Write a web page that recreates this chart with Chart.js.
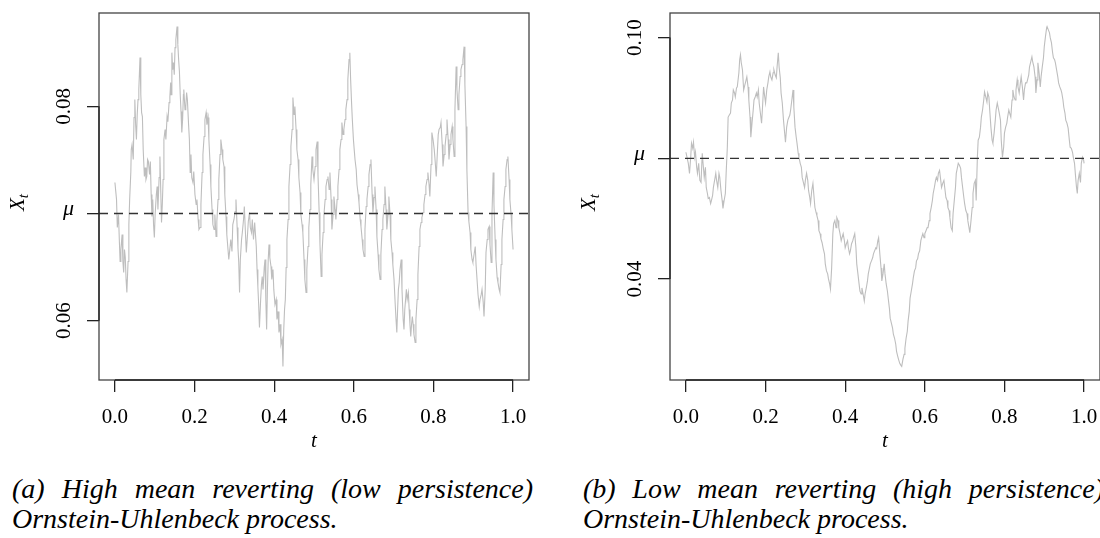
<!DOCTYPE html>
<html>
<head>
<meta charset="utf-8">
<script src="https://cdn.jsdelivr.net/npm/chart.js@4.4.1/dist/chart.umd.min.js"></script>
<style>
  body { margin: 0; width: 1100px; height: 538px; overflow: hidden; background: #fff; position: relative; }
  canvas { position: absolute; top: 0; }
  .cap { position: absolute; font-family: 'Liberation Serif', serif; font-style: italic; font-size: 28px; line-height: 30px; color: #000; }
  .cap .l1 { width: 521px; text-align: justify; text-align-last: justify; white-space: nowrap; }
</style>
</head>
<body>
<canvas id="chartA" width="550" height="470" style="left:0"></canvas>
<canvas id="chartB" width="550" height="470" style="left:571px"></canvas>
<div class="cap" style="left:12px; top:474px">
  <div class="l1">(a) High mean reverting (low persistence)</div>
  <div>Ornstein-Uhlenbeck process.</div>
</div>
<div class="cap" style="left:583px; top:474px">
  <div class="l1">(b) Low mean reverting (high persistence)</div>
  <div>Ornstein-Uhlenbeck process.</div>
</div>
<script>
const MU = 0.07;
const xTicks = [0, 0.2, 0.4, 0.6, 0.8, 1.0];
const yTicksHigh = [0.06, MU, 0.08];
const yTicksLow = [0.04, MU, 0.10];

// path with strong mean reversion
const tHigh = [
  0.000, 0.004, 0.006, 0.009, 0.011, 0.013, 0.015, 0.018, 0.020, 0.022, 0.024, 0.026, 0.028, 0.030, 0.033, 0.035, 0.037, 0.040, 0.041, 0.043,
  0.046, 0.048, 0.050, 0.052, 0.054, 0.056, 0.058, 0.060, 0.063, 0.065, 0.067, 0.069, 0.071, 0.074, 0.076, 0.078, 0.080, 0.082, 0.084, 0.087,
  0.089, 0.091, 0.093, 0.095, 0.097, 0.099, 0.101, 0.104, 0.106, 0.108, 0.111, 0.113, 0.115, 0.117, 0.119, 0.121, 0.123,
  0.126, 0.128, 0.131, 0.133, 0.136, 0.138, 0.140, 0.141, 0.143, 0.145, 0.147, 0.149, 0.151, 0.153, 0.156, 0.158, 0.160, 0.162, 0.164, 0.166,
  0.168, 0.170, 0.172, 0.173, 0.176, 0.178, 0.180, 0.182, 0.185, 0.187, 0.189, 0.191, 0.193, 0.196, 0.198, 0.201, 0.204, 0.206, 0.209, 0.211,
  0.214, 0.216, 0.219, 0.221, 0.224, 0.226, 0.229, 0.231, 0.234, 0.236, 0.239, 0.241, 0.244, 0.246,
  0.249, 0.251, 0.254, 0.256, 0.259, 0.261, 0.264, 0.266, 0.269, 0.271, 0.274, 0.276, 0.279, 0.281, 0.284, 0.286, 0.289, 0.291, 0.294, 0.296,
  0.299, 0.302, 0.304, 0.307, 0.309, 0.311, 0.313, 0.315, 0.318, 0.320, 0.323, 0.325, 0.328, 0.330, 0.333, 0.335, 0.338, 0.340, 0.343, 0.345,
  0.348, 0.351, 0.353, 0.355, 0.357, 0.359, 0.361, 0.363, 0.366, 0.368, 0.370, 0.372, 0.375, 0.377, 0.379, 0.381, 0.383, 0.385, 0.387, 0.389,
  0.392, 0.394, 0.397, 0.399, 0.402, 0.405, 0.407, 0.410, 0.412, 0.415, 0.417, 0.420, 0.422,
  0.424, 0.426, 0.428, 0.430, 0.432, 0.435, 0.437, 0.440, 0.442, 0.445, 0.447, 0.450, 0.452, 0.455, 0.457, 0.460, 0.462, 0.465, 0.467, 0.470,
  0.472, 0.475, 0.477, 0.480, 0.482, 0.485, 0.487, 0.490, 0.492, 0.495, 0.497, 0.500, 0.503, 0.505, 0.508, 0.510, 0.513, 0.515, 0.518, 0.520,
  0.523, 0.525, 0.528, 0.530, 0.533, 0.535, 0.538, 0.540, 0.543, 0.545, 0.548, 0.550, 0.553, 0.555, 0.558, 0.560, 0.563, 0.565, 0.568, 0.570,
  0.573, 0.575, 0.578, 0.580, 0.583, 0.585, 0.588, 0.590, 0.592, 0.594, 0.596, 0.599, 0.601, 0.603, 0.606, 0.608, 0.611, 0.613, 0.616,
  0.618, 0.621, 0.623, 0.626, 0.628, 0.631, 0.633, 0.636, 0.638, 0.641, 0.643, 0.646, 0.648, 0.651, 0.653, 0.656, 0.658, 0.661, 0.663, 0.666,
  0.668, 0.671, 0.673, 0.676, 0.678, 0.681, 0.683, 0.686, 0.688, 0.691, 0.693, 0.696, 0.698, 0.701, 0.704, 0.706, 0.708, 0.710, 0.712, 0.714,
  0.716, 0.719, 0.721, 0.724, 0.726, 0.728, 0.730, 0.732, 0.734, 0.737, 0.739, 0.741, 0.743, 0.745, 0.747, 0.749, 0.751, 0.754, 0.756, 0.759,
  0.761, 0.764, 0.766,
  0.769, 0.771, 0.774, 0.776, 0.779, 0.781, 0.784, 0.786, 0.789, 0.791, 0.794, 0.796, 0.799, 0.802, 0.804, 0.807, 0.809, 0.812, 0.814, 0.817,
  0.819, 0.822, 0.824, 0.827, 0.829, 0.832, 0.834, 0.837, 0.839, 0.842, 0.844, 0.847, 0.849, 0.852, 0.854, 0.857, 0.859, 0.862, 0.864, 0.867,
  0.869, 0.872, 0.874, 0.877, 0.879, 0.882, 0.884, 0.887, 0.889, 0.892, 0.894, 0.897, 0.899, 0.902, 0.905, 0.907, 0.910, 0.912, 0.915, 0.917,
  0.920, 0.922, 0.925, 0.927, 0.930, 0.932, 0.935, 0.937, 0.940, 0.942, 0.945, 0.947, 0.950, 0.952, 0.955, 0.957, 0.960, 0.962, 0.965, 0.967,
  0.970, 0.972, 0.975, 0.977, 0.980, 0.982, 0.985, 0.987, 0.990, 0.992, 0.995, 0.997, 1.000];
const xHigh = [
  0.07289, 0.07130, 0.06869, 0.06991, 0.06758, 0.06553, 0.06664, 0.06804, 0.06553, 0.06450, 0.06664, 0.06590, 0.06385, 0.06264, 0.06553, 0.06897, 0.07130, 0.07391, 0.07596, 0.07643,
  0.07503, 0.07895, 0.08062, 0.07829, 0.07690, 0.07923, 0.08062, 0.08156, 0.08454, 0.08109, 0.07941, 0.07904, 0.07596, 0.07345, 0.07429, 0.07317, 0.07345, 0.07503, 0.07485, 0.07363,
  0.07485, 0.07177, 0.06972, 0.07130, 0.06897, 0.06776, 0.06991, 0.07177, 0.07252, 0.07037, 0.07335, 0.07531, 0.07224, 0.06916, 0.07084, 0.07317, 0.07690,
  0.07783, 0.07690, 0.07904, 0.07857, 0.08034, 0.08090, 0.08221, 0.08109, 0.08500, 0.08342, 0.08407, 0.08295, 0.08547, 0.08622, 0.08743, 0.08575, 0.08435, 0.08323, 0.08109, 0.07951,
  0.07755, 0.07876, 0.08109, 0.08156, 0.07969, 0.07997, 0.08128, 0.08062, 0.07829, 0.07690, 0.07382, 0.07550, 0.07335, 0.07289, 0.07391, 0.07177, 0.07084, 0.07130, 0.06944, 0.06851,
  0.06869, 0.07084, 0.07382, 0.07550, 0.07718, 0.07876, 0.07941, 0.07829, 0.07895, 0.07690, 0.07457, 0.07252, 0.07037, 0.06897,
  0.06851, 0.06991, 0.06786, 0.06925, 0.07130, 0.07317, 0.07550, 0.07690, 0.07596, 0.07503, 0.07438, 0.07177, 0.06972, 0.06804, 0.06664, 0.06571, 0.06683, 0.06758, 0.06646, 0.06897,
  0.06944, 0.07018, 0.07130, 0.06869, 0.06683, 0.06543, 0.06264, 0.06571, 0.06758, 0.06823, 0.06944, 0.07065, 0.06804, 0.06636, 0.06804, 0.06925, 0.07009, 0.06869, 0.06823, 0.06944,
  0.06758, 0.06916, 0.06804, 0.06692, 0.06478, 0.06320, 0.06152, 0.05938, 0.06198, 0.06338, 0.06413, 0.06292, 0.06497, 0.06571, 0.06198, 0.05919, 0.06292, 0.06571, 0.06711, 0.06590,
  0.06506, 0.06385, 0.06478, 0.06292, 0.06152, 0.06198, 0.06012, 0.06087, 0.05891, 0.05966, 0.05779, 0.05826, 0.05574,
  0.05919, 0.06105, 0.06198, 0.06497, 0.06758, 0.06944, 0.07252, 0.07457, 0.07624, 0.07783, 0.08081, 0.07923, 0.07997, 0.07783, 0.07596, 0.07503, 0.07335, 0.07196, 0.06991, 0.06897,
  0.06823, 0.06571, 0.06385, 0.06264, 0.06478, 0.06692, 0.06869, 0.07037, 0.07270, 0.07531, 0.07410, 0.07317, 0.07438, 0.07596, 0.07671, 0.07363, 0.07009, 0.06711, 0.06413, 0.06618,
  0.06823, 0.06991, 0.07130, 0.07252, 0.07317, 0.07345, 0.07224, 0.07382, 0.07130, 0.06851, 0.06991, 0.07158, 0.07037, 0.06944, 0.07130, 0.07252, 0.07410, 0.07596, 0.07690, 0.07848,
  0.07736, 0.07783, 0.07876, 0.07969, 0.08062, 0.08249, 0.08435, 0.08500, 0.08249, 0.08062, 0.07895, 0.07690, 0.07596, 0.07503, 0.07410, 0.07270, 0.07177, 0.07102, 0.06944,
  0.06879, 0.06758, 0.06664, 0.06599, 0.06851, 0.07065, 0.07130, 0.07252, 0.07363, 0.07457, 0.07503, 0.07177, 0.07009, 0.07149, 0.07252, 0.07037, 0.06786, 0.06618, 0.06478, 0.06385,
  0.06618, 0.06851, 0.06944, 0.07084, 0.07252, 0.07037, 0.06851, 0.06991, 0.07158, 0.06991, 0.06758, 0.06636, 0.06525, 0.06385, 0.06152, 0.06012, 0.05891, 0.06105, 0.06292, 0.06357,
  0.06478, 0.06571, 0.06292, 0.06012, 0.05919, 0.06105, 0.06198, 0.06292, 0.06198, 0.06264, 0.06105, 0.05966, 0.05854, 0.05966, 0.06040, 0.05966, 0.05872, 0.05798, 0.06012, 0.06198,
  0.06431, 0.06692, 0.06851,
  0.06916, 0.06963, 0.07009, 0.07084, 0.07177, 0.07252, 0.07317, 0.07382, 0.07270, 0.07158, 0.07457, 0.07755, 0.07690, 0.07596, 0.07503, 0.07345, 0.07503, 0.07736, 0.07783, 0.07801,
  0.07848, 0.07643, 0.07438, 0.07550, 0.07624, 0.07736, 0.07876, 0.07690, 0.07503, 0.07643, 0.07736, 0.07811, 0.07690, 0.07531, 0.07969, 0.08370, 0.08156, 0.07969, 0.08109, 0.08277,
  0.08342, 0.08389, 0.08435, 0.08556, 0.08202, 0.07811, 0.07410, 0.07009, 0.06925, 0.06823, 0.06664, 0.06571, 0.06543, 0.06618, 0.06692, 0.06525, 0.06357, 0.06245, 0.06133, 0.06198,
  0.06245, 0.06292, 0.06171, 0.06040, 0.06292, 0.06636, 0.06758, 0.06851, 0.06879, 0.06711, 0.06543, 0.06991, 0.07382, 0.07084, 0.06758, 0.06571, 0.06403, 0.06357, 0.06292, 0.06264,
  0.06525, 0.06758, 0.06944, 0.07130, 0.07252, 0.07410, 0.07503, 0.07531, 0.07317, 0.07130, 0.06991, 0.06851, 0.06664];

// path with weak mean reversion
const tLow = [
  0.000, 0.006, 0.009, 0.012, 0.014, 0.017, 0.019, 0.022, 0.024, 0.027, 0.029, 0.032, 0.035, 0.038, 0.041, 0.043, 0.046, 0.049, 0.051, 0.054,
  0.056, 0.059, 0.062, 0.064, 0.067, 0.069, 0.072, 0.075, 0.077, 0.080, 0.083, 0.085, 0.088, 0.091, 0.093, 0.096, 0.099, 0.101, 0.104, 0.106,
  0.109, 0.112, 0.114, 0.117, 0.119, 0.122, 0.124, 0.127, 0.129, 0.133, 0.135, 0.137, 0.139, 0.142, 0.145, 0.148, 0.150, 0.153, 0.156, 0.158,
  0.161, 0.163, 0.166, 0.169, 0.171, 0.174, 0.177, 0.179, 0.182, 0.184, 0.187, 0.190, 0.192, 0.195, 0.198, 0.200, 0.203, 0.206, 0.208, 0.211,
  0.213, 0.216, 0.219, 0.221, 0.224, 0.227, 0.229, 0.232, 0.234, 0.237, 0.239, 0.242, 0.245, 0.248, 0.250, 0.253, 0.256, 0.258, 0.261, 0.263,
  0.266, 0.269, 0.271, 0.274, 0.277, 0.279, 0.282, 0.284, 0.287, 0.290, 0.292, 0.295, 0.298, 0.300, 0.303, 0.306, 0.308, 0.311, 0.313, 0.316,
  0.319, 0.321, 0.324, 0.327, 0.329, 0.332, 0.334, 0.337, 0.339, 0.342, 0.345, 0.348, 0.350, 0.353, 0.356, 0.358, 0.361, 0.363, 0.366, 0.369,
  0.371, 0.374, 0.377, 0.379, 0.382, 0.384, 0.387, 0.390, 0.392, 0.395, 0.398, 0.400, 0.403, 0.406, 0.408, 0.411, 0.413, 0.416, 0.419, 0.421,
  0.424, 0.427, 0.429, 0.432, 0.434, 0.437, 0.440, 0.442, 0.445, 0.448, 0.450, 0.453, 0.456, 0.458, 0.461, 0.463, 0.466, 0.469, 0.471, 0.474,
  0.477, 0.479, 0.482, 0.484, 0.487, 0.490, 0.492, 0.495, 0.498, 0.500, 0.503, 0.506, 0.508, 0.511, 0.513, 0.516, 0.519, 0.521, 0.524, 0.527,
  0.529, 0.532, 0.534, 0.537, 0.540, 0.542, 0.545, 0.548, 0.550, 0.553, 0.556, 0.558, 0.561, 0.563, 0.566, 0.569, 0.571, 0.574, 0.577, 0.579,
  0.582, 0.584, 0.587, 0.590, 0.592, 0.595, 0.598, 0.600, 0.603, 0.606, 0.608, 0.611, 0.613, 0.616, 0.619, 0.621, 0.624, 0.627, 0.629, 0.632,
  0.634, 0.637, 0.640, 0.642, 0.645, 0.648, 0.650, 0.653, 0.656, 0.658, 0.661, 0.663, 0.666, 0.669, 0.671, 0.674, 0.677, 0.679, 0.682, 0.684,
  0.687, 0.690, 0.692, 0.695, 0.698, 0.700, 0.703, 0.706, 0.708, 0.711, 0.713, 0.716, 0.719, 0.721, 0.724, 0.727, 0.729, 0.732, 0.734, 0.737,
  0.740, 0.742, 0.745, 0.748, 0.750, 0.753, 0.756, 0.758, 0.761, 0.763, 0.766, 0.769, 0.771, 0.774, 0.777, 0.779, 0.782, 0.784, 0.787, 0.790,
  0.792, 0.795, 0.798, 0.800, 0.803, 0.806, 0.808, 0.811, 0.813, 0.816, 0.819, 0.821, 0.824, 0.827, 0.829, 0.832, 0.834, 0.837, 0.840, 0.842,
  0.845, 0.848, 0.850, 0.853, 0.856, 0.858, 0.861, 0.863, 0.866, 0.869, 0.871, 0.874, 0.877, 0.879, 0.882, 0.884, 0.887, 0.890, 0.892, 0.895,
  0.898, 0.900, 0.903, 0.906, 0.907, 0.910, 0.913, 0.915, 0.918, 0.921, 0.923, 0.926, 0.928, 0.931, 0.934, 0.936, 0.939, 0.942, 0.944, 0.947,
  0.949, 0.952, 0.954, 0.957, 0.960, 0.963, 0.965, 0.968, 0.971, 0.973, 0.976, 0.978, 0.981, 0.983, 0.985, 0.988, 0.991, 0.993, 0.996, 0.999,
  1.000];
const xLow = [
  0.07150, 0.06875, 0.06626, 0.07025, 0.07375, 0.07250, 0.07400, 0.07025, 0.07150, 0.06775, 0.06626, 0.06875, 0.06451, 0.06401, 0.07125, 0.06875, 0.06526, 0.06775, 0.06276, 0.06126,
  0.06001, 0.06026, 0.05876, 0.05951, 0.06076, 0.06276, 0.06451, 0.06626, 0.06451, 0.06276, 0.06626, 0.06526, 0.06201, 0.05951, 0.05752, 0.05951, 0.06126, 0.06626, 0.07275, 0.08024,
  0.08074, 0.08124, 0.08373, 0.08448, 0.08698, 0.08623, 0.08523, 0.08748, 0.08773, 0.09123, 0.09447, 0.09572, 0.09372, 0.09197, 0.08698, 0.08823, 0.08898, 0.09023, 0.08773, 0.08448,
  0.08024, 0.07524, 0.07874, 0.08199, 0.08448, 0.08523, 0.08623, 0.08523, 0.08698, 0.08373, 0.08124, 0.07874, 0.08199, 0.08773, 0.08523, 0.08373, 0.08698, 0.08873, 0.09023, 0.09148,
  0.09023, 0.08948, 0.09123, 0.09197, 0.09073, 0.08998, 0.09272, 0.09622, 0.09272, 0.08998, 0.08623, 0.08373, 0.07949, 0.07624, 0.07400, 0.07774, 0.07949, 0.07999, 0.08074, 0.08199,
  0.08448, 0.08698, 0.08274, 0.07774, 0.07524, 0.07375, 0.07125, 0.07025, 0.06875, 0.06775, 0.06526, 0.06401, 0.06276, 0.06451, 0.06626, 0.06451, 0.06201, 0.06026, 0.05876, 0.06201,
  0.06376, 0.06126, 0.05777, 0.05652, 0.05577, 0.05452, 0.05202, 0.05127, 0.05002, 0.04903, 0.04753, 0.04628, 0.04378, 0.04203, 0.04129, 0.04004, 0.03879, 0.03754, 0.04278, 0.05127,
  0.05377, 0.05452, 0.05277, 0.05527, 0.05452, 0.05277, 0.05127, 0.04953, 0.05027, 0.05127, 0.04953, 0.04778, 0.04878, 0.04953, 0.04778, 0.04628, 0.04703, 0.04878, 0.04953, 0.05027,
  0.05127, 0.04778, 0.04378, 0.04129, 0.03954, 0.03704, 0.03629, 0.03779, 0.03629, 0.03454, 0.03629, 0.03779, 0.03954, 0.04129, 0.04278, 0.04378, 0.04453, 0.04528, 0.04628, 0.04703,
  0.04778, 0.04753, 0.04953, 0.05027, 0.04628, 0.04278, 0.03954, 0.04129, 0.04378, 0.04129, 0.03879, 0.03704, 0.03529, 0.03280, 0.03030, 0.02905, 0.02780, 0.02630, 0.02530, 0.02381,
  0.02206, 0.02081, 0.02006, 0.01906, 0.01856, 0.01831, 0.02006, 0.02131, 0.02281, 0.02530, 0.02705, 0.02955, 0.03205, 0.03529, 0.03704, 0.03879, 0.04029, 0.04203, 0.04278, 0.04453,
  0.04503, 0.04628, 0.04703, 0.04953, 0.05027, 0.05127, 0.05027, 0.05127, 0.05202, 0.05277, 0.05277, 0.05452, 0.05627, 0.05777, 0.05951, 0.06126, 0.06276, 0.06451, 0.06526, 0.06451,
  0.06626, 0.06700, 0.06451, 0.06276, 0.06376, 0.06451, 0.06276, 0.06026, 0.05951, 0.05777, 0.05702, 0.05527, 0.05277, 0.05202, 0.05627, 0.05951, 0.06276, 0.06626, 0.06775, 0.06875,
  0.06825, 0.06750, 0.06526, 0.06276, 0.06026, 0.05876, 0.05702, 0.05627, 0.05452, 0.05277, 0.05152, 0.05452, 0.05777, 0.06126, 0.06376, 0.06451, 0.05951, 0.07025, 0.07450, 0.07524,
  0.07774, 0.08024, 0.08199, 0.08448, 0.08648, 0.08523, 0.08398, 0.08623, 0.08523, 0.08199, 0.07774, 0.07450, 0.07375, 0.07624, 0.07949, 0.08199, 0.08373, 0.08274, 0.08124, 0.07949,
  0.07450, 0.07025, 0.07275, 0.07624, 0.07774, 0.07874, 0.08024, 0.08199, 0.08124, 0.08024, 0.08448, 0.08698, 0.08523, 0.08448, 0.08698, 0.08948, 0.08773, 0.08623, 0.08873, 0.09023,
  0.08773, 0.08448, 0.08698, 0.08873, 0.08873, 0.08948, 0.09073, 0.09272, 0.09397, 0.09522, 0.09397, 0.09272, 0.09023, 0.08623, 0.08948, 0.09372, 0.09123, 0.08773, 0.09023, 0.09272,
  0.09497, 0.09772, 0.10021, 0.10246, 0.10271, 0.10196, 0.10121, 0.09996, 0.09872, 0.09622, 0.09497, 0.09447, 0.09372, 0.09197, 0.09023, 0.08873, 0.08773, 0.08698, 0.08623, 0.08448,
  0.08274, 0.08124, 0.07949, 0.07874, 0.07749, 0.07450, 0.07275, 0.07250, 0.07150, 0.07025, 0.06875, 0.06626, 0.06276, 0.06126, 0.06451, 0.06626, 0.06401, 0.06875, 0.07025, 0.06950,
  0.06875];

const SERIF = `'Liberation Serif', serif`;
const INK = '#222';

// box, axis lines, y labels and axis titles in the style of base R graphics
const rFrame = {
  id: 'rFrame',
  afterDraw(chart) {
    const { ctx, chartArea: a, scales: { x, y } } = chart;
    ctx.save();
    ctx.lineWidth = 1.3;
    ctx.strokeStyle = '#444';
    ctx.strokeRect(a.left, a.top, a.right - a.left, a.bottom - a.top);

    ctx.strokeStyle = INK;
    const xs = x.ticks.map(t => x.getPixelForValue(t.value));
    const ys = y.ticks.map(t => y.getPixelForValue(t.value));
    ctx.beginPath();
    ctx.moveTo(xs[0], a.bottom); ctx.lineTo(xs[xs.length - 1], a.bottom);
    ctx.moveTo(a.left, ys[0]); ctx.lineTo(a.left, ys[ys.length - 1]);
    ctx.stroke();

    ctx.fillStyle = '#000';
    y.ticks.forEach(t => {
      const py = y.getPixelForValue(t.value);
      if (t.value === MU) {
        ctx.font = 'italic 22px ' + SERIF;
        ctx.textAlign = 'right';
        ctx.textBaseline = 'alphabetic';
        ctx.fillText('μ', a.left - 25, py + 2);
      } else {
        ctx.save();
        ctx.translate(a.left - 29, py);
        ctx.rotate(-Math.PI / 2);
        ctx.font = '21px ' + SERIF;
        ctx.textAlign = 'center';
        ctx.textBaseline = 'alphabetic';
        ctx.fillText(t.value.toFixed(2), 0, 0);
        ctx.restore();
      }
    });

    // x title
    ctx.font = 'italic 21px ' + SERIF;
    ctx.textAlign = 'center';
    ctx.textBaseline = 'alphabetic';
    ctx.fillText('t', (a.left + a.right) / 2, 447);

    // y title X_t, read bottom to top
    ctx.save();
    ctx.translate(a.left - 75, (a.top + a.bottom) / 2 + 6);
    ctx.rotate(-Math.PI / 2);
    ctx.font = 'italic 21px ' + SERIF;
    const wX = ctx.measureText('X').width;
    ctx.font = 'italic 15px ' + SERIF;
    const wt = ctx.measureText('t').width;
    const x0 = -(wX + wt) / 2;
    ctx.textAlign = 'left';
    ctx.font = 'italic 21px ' + SERIF;
    ctx.fillText('X', x0, 0);
    ctx.font = 'italic 15px ' + SERIF;
    ctx.fillText('t', x0 + wX, 4);
    ctx.restore();

    ctx.restore();
  }
};

function drawPanel(id, tVals, xVals, yTicks) {
  const lo = Math.min(...xVals), hi = Math.max(...xVals);
  const pad = 0.04 * (hi - lo);
  const path = tVals.map((t, i) => ({ x: t, y: xVals[i] }));
  const muLine = [{ x: -0.04, y: MU }, { x: 1.04, y: MU }];

  new Chart(document.getElementById(id), {
    type: 'line',
    data: {
      datasets: [
        { data: muLine, borderColor: '#333', borderWidth: 1.3, borderDash: [9, 6], pointRadius: 0 },
        { data: path, borderColor: '#bebebe', borderWidth: 1.1, pointRadius: 0, tension: 0 }
      ]
    },
    options: {
      responsive: false,
      animation: false,
      devicePixelRatio: 1,
      events: [],
      layout: { padding: { left: 0, top: 13, right: 21, bottom: 0 } },
      plugins: { legend: { display: false }, tooltip: { enabled: false } },
      scales: {
        x: {
          type: 'linear',
          min: -0.04,
          max: 1.04,
          afterBuildTicks: s => { s.ticks = xTicks.map(v => ({ value: v })); },
          afterFit: s => { s.height = 90; },
          border: { display: false },
          grid: { drawOnChartArea: false, drawTicks: true, tickLength: 12, color: INK, lineWidth: 1.3 },
          ticks: { font: { family: SERIF, size: 21 }, color: '#000', padding: 13, maxRotation: 0, callback: v => v.toFixed(1) }
        },
        y: {
          type: 'linear',
          min: lo - pad,
          max: hi + pad,
          afterBuildTicks: s => { s.ticks = yTicks.map(v => ({ value: v })); },
          afterFit: s => { s.width = 99; },
          border: { display: false },
          grid: { drawOnChartArea: false, drawTicks: true, tickLength: 12, color: INK, lineWidth: 1.3 },
          ticks: { display: false }
        }
      }
    },
    plugins: [rFrame]
  });
}

drawPanel('chartA', tHigh, xHigh, yTicksHigh);
drawPanel('chartB', tLow, xLow, yTicksLow);
</script>
</body>
</html>
